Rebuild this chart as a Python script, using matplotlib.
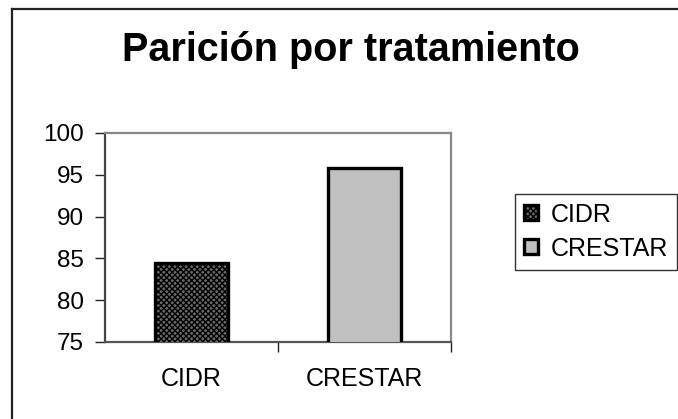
import matplotlib
matplotlib.use("Agg")
import matplotlib.pyplot as plt

categories = ["CIDR", "CRESTAR"]
values = [84.5, 95.8]
y_ticks = [75, 80, 85, 90, 95, 100]
title = "Parición por tratamiento"

plt.rcParams["font.family"] = ["Liberation Sans", "DejaVu Sans"]
plt.rcParams["hatch.linewidth"] = 1.0

fig = plt.figure(figsize=(6.78, 4.19), dpi=100)
W, H = 678, 419

# outer chart frame (only left and top edges visible)
fig.add_artist(plt.Line2D([12 / W, 12 / W], [0, 1 - 9 / H], color="#222222", lw=1.6,
                          transform=fig.transFigure))
fig.add_artist(plt.Line2D([12 / W, 677 / W], [1 - 9 / H, 1 - 9 / H], color="#222222", lw=1.6,
                          transform=fig.transFigure))

ax = fig.add_axes([105 / W, 1 - 342 / H, (451 - 105) / W, (342 - 133) / H])

x = [0, 1]
bars = ax.bar(x, values, width=0.42, bottom=0, edgecolor="black", linewidth=2.4, zorder=3)
bars[0].set_facecolor("#6a6a6a")
bars[0].set_hatch("xxxxxx")
bars[1].set_facecolor("#c0c0c0")

ax.set_xlim(-0.5, 1.5)
ax.set_ylim(75, 100)
ax.set_yticks(y_ticks)
ax.set_yticklabels([str(v) for v in y_ticks], fontsize=17.5)
ax.set_xticks(x)
ax.set_xticklabels(categories, fontsize=18)
ax.tick_params(axis="x", length=0, pad=18)
ax.tick_params(axis="y", length=7, width=1, pad=8, color="#222222")
# category boundary ticks on x axis
ax.set_xticks([0.5, 1.5], minor=True)
ax.tick_params(axis="x", which="minor", length=7, width=1, color="#222222")

for side in ["top", "right"]:
    ax.spines[side].set_color("#888888")
    ax.spines[side].set_linewidth(1.6)
ax.spines["left"].set_color("#444444")
ax.spines["left"].set_linewidth(1.6)
ax.spines["bottom"].set_color("#555555")
ax.spines["bottom"].set_linewidth(1.6)

fig.text(351 / W, 1 - 50 / H, title, fontsize=28.5, fontweight="bold", ha="center", va="center")

leg = fig.legend(bars, categories, loc="upper left", bbox_to_anchor=(515 / W, 1 - 194 / H),
                 fontsize=18, frameon=True, fancybox=False, edgecolor="black",
                 handlelength=0.55, handleheight=0.55, handletextpad=0.55,
                 borderpad=0.35, labelspacing=0.4, borderaxespad=0)
leg.get_frame().set_linewidth(1.0)

fig.savefig("out.png", dpi=100)
